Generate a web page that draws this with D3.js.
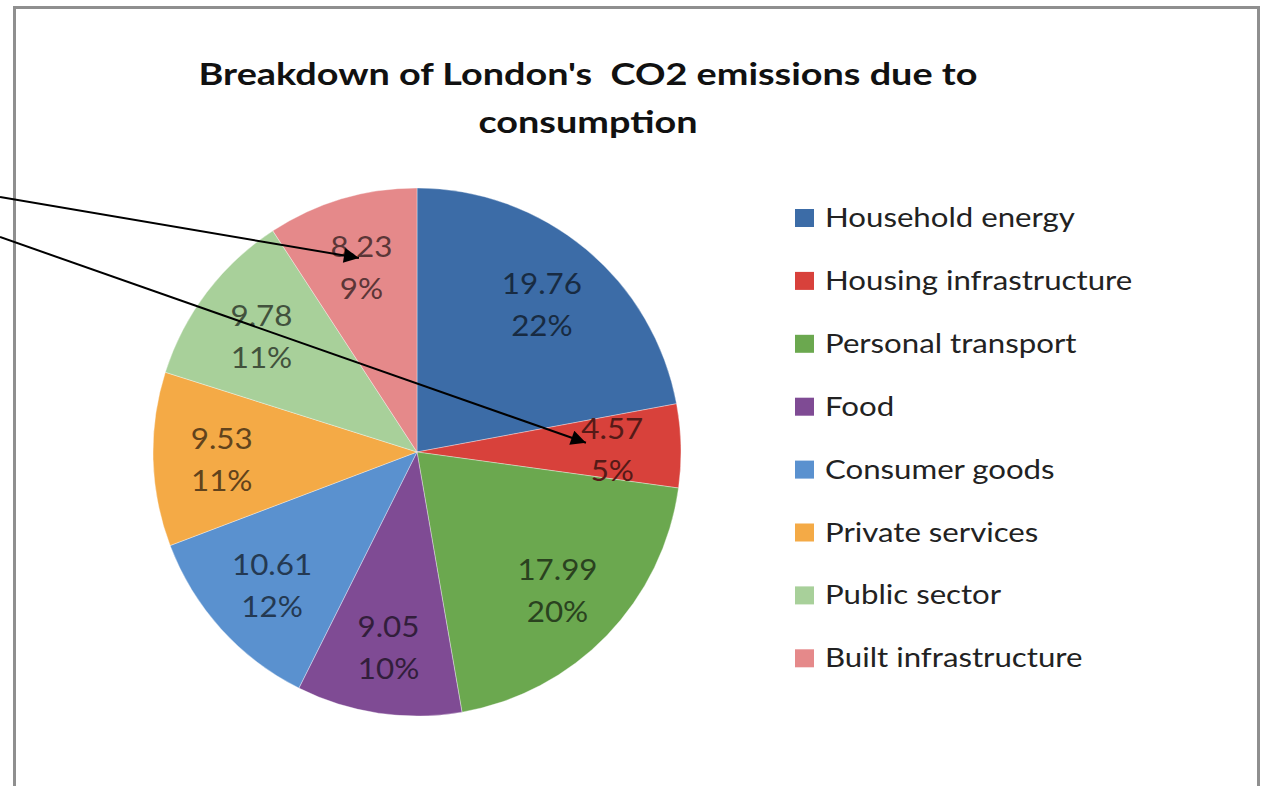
<!DOCTYPE html>
<html>
<head>
<meta charset="utf-8">
<script src="https://cdn.jsdelivr.net/npm/d3@7"></script>
<style>
  body { margin: 0; background: #fff; }
  svg { display: block; }
</style>
</head>
<body>
<div id="chart"></div>
<script>
const categories = ['Household energy', 'Housing infrastructure', 'Personal transport', 'Food',
                    'Consumer goods', 'Private services', 'Public sector', 'Built infrastructure']
const values     = [19.76, 4.57, 17.99, 9.05, 10.61, 9.53, 9.78, 8.23]
const percents   = ['22%', '5%', '20%', '10%', '12%', '11%', '11%', '9%']
const colors     = ['#3c6ca7', '#d8413b', '#6ba84f', '#7f4b94', '#5a91cf', '#f4aa46', '#a8d09a', '#e5898a']
const titleLines = ["Breakdown of London's  CO2 emissions due to", 'consumption']
// annotation arrows: start at the left page edge, end inside a slice
// (pos = fraction of radius along x / y from the pie centre)
const arrows = [
  { from: 197, pos: [-0.22, -0.735] },
  { from: 237, pos: [0.64, -0.035] }
]

const width = 1267,
      height = 786,
      center = { x: 417, y: 452 },
      radius = 264,
      stretch = 1.2 // the source image is a little wider than the font

const svg = d3.select('#chart')
  .append('svg')
  .attr('width', width)
  .attr('height', height)

// chart frame
svg.append('rect')
  .attr('x', 14.5)
  .attr('y', 7.5)
  .attr('width', 1244)
  .attr('height', 800)
  .attr('fill', '#fff')
  .attr('stroke', '#8f8f8f')
  .attr('stroke-width', 3)

// title
svg.append('text')
  .attr('transform', 'translate(588, 85) scale(1.22, 1)')
  .attr('text-anchor', 'middle')
  .attr('font-family', 'Lato, sans-serif')
  .attr('font-weight', 'bold')
  .attr('font-size', 31)
  .attr('fill', '#111')
  .style('white-space', 'pre')
  .selectAll('tspan')
  .data(titleLines)
  .join('tspan')
    .attr('x', 0)
    .attr('dy', (d, i) => i ? 48 : 0)
    .text(d => d)

const data = categories.map((c, i) => ({ name: c, value: values[i], pct: percents[i], color: colors[i] }))

const pie = d3.pie()
  .sort(null)
  .value(d => d.value)
const arcs = pie(data)

const arc = d3.arc()
  .innerRadius(0)
  .outerRadius(radius)
const labelArc = d3.arc()
  .innerRadius(radius * 0.74)
  .outerRadius(radius * 0.74)

const g = svg.append('g')
  .attr('transform', `translate(${center.x}, ${center.y})`)

g.selectAll('path.slice')
  .data(arcs)
  .join('path')
    .attr('class', 'slice')
    .attr('d', arc)
    .attr('fill', d => d.data.color)
    .attr('stroke', '#fff')
    .attr('stroke-opacity', 0.35)
    .attr('stroke-width', 1)

// data labels: value + percent
const labels = g.selectAll('text.label')
  .data(arcs)
  .join('text')
    .attr('class', 'label')
    .attr('transform', d => `translate(${labelArc.centroid(d)}) scale(1.12, 1)`)
    .attr('text-anchor', 'middle')
    .attr('font-family', 'Lato, sans-serif')
    .attr('font-size', 28)
    .attr('fill', d => d3.color(d.data.color).darker(2.6))

labels.append('tspan')
  .attr('x', 0)
  .attr('dy', -8)
  .text(d => d.data.value.toFixed(2))
labels.append('tspan')
  .attr('x', 0)
  .attr('dy', 42)
  .text(d => d.data.pct)

// legend
const legend = svg.append('g')
  .attr('transform', 'translate(795, 218)')

const rows = legend.selectAll('g')
  .data(data)
  .join('g')
    .attr('transform', (d, i) => `translate(0, ${i * 62.9})`)

rows.append('rect')
  .attr('x', 0)
  .attr('y', -9)
  .attr('width', 19)
  .attr('height', 18)
  .attr('fill', d => d.color)

rows.append('text')
  .attr('transform', `translate(30, 9) scale(${stretch}, 1)`)
  .attr('font-family', 'Lato, sans-serif')
  .attr('font-size', 26)
  .attr('fill', '#222')
  .text(d => d.name)

// arrows
svg.append('defs')
  .append('marker')
    .attr('id', 'arrowhead')
    .attr('viewBox', '0 0 10 10')
    .attr('refX', 10)
    .attr('refY', 5)
    .attr('markerWidth', 18)
    .attr('markerHeight', 15)
    .attr('markerUnits', 'userSpaceOnUse')
    .attr('orient', 'auto')
  .append('path')
    .attr('d', 'M0,0 L10,5 L0,10 Z')
    .attr('fill', '#000')

svg.selectAll('line.arrow')
  .data(arrows)
  .join('line')
    .attr('class', 'arrow')
    .attr('x1', 0)
    .attr('y1', d => d.from)
    .attr('x2', d => center.x + d.pos[0] * radius)
    .attr('y2', d => center.y + d.pos[1] * radius)
    .attr('stroke', '#000')
    .attr('stroke-width', 2)
    .attr('marker-end', 'url(#arrowhead)')
</script>
</body>
</html>
